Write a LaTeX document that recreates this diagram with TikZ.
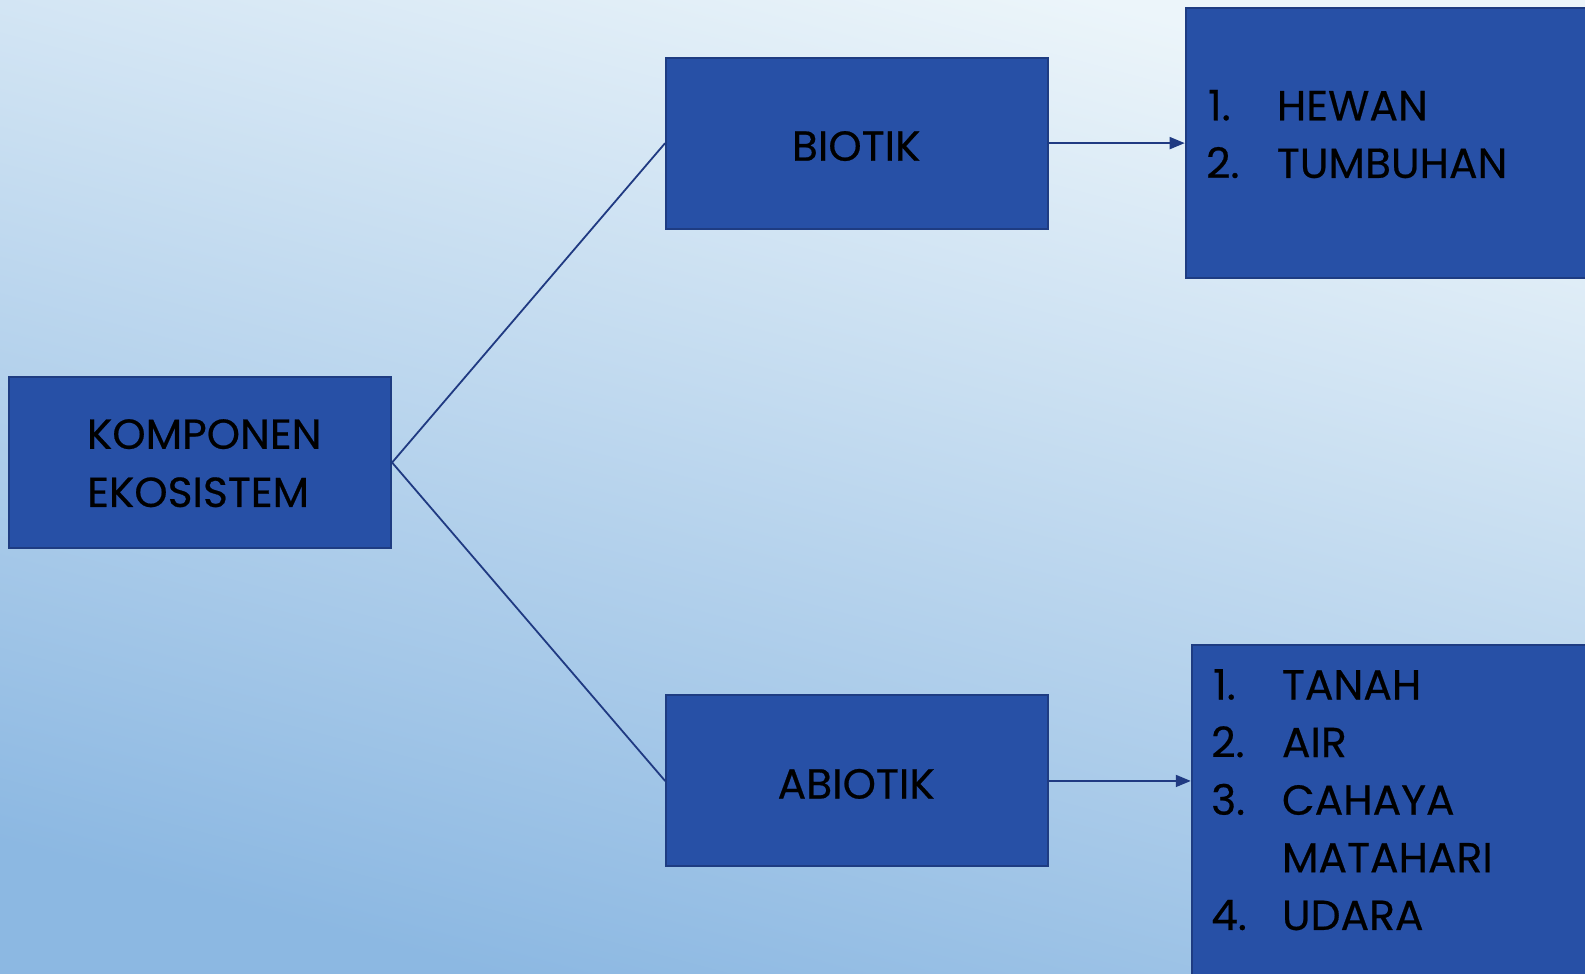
\documentclass[tikz,border=0pt]{standalone}
\usepackage{fontspec}
\setmainfont{Poppins}[FakeStretch=1.01,FakeBold=0.5]
\usetikzlibrary{arrows.meta}
\definecolor{boxfill}{RGB}{39,80,166}
\definecolor{boxedge}{RGB}{30,60,130}
\definecolor{linec}{RGB}{32,58,130}
\definecolor{bgtop}{RGB}{236,245,250}
\definecolor{bgbot}{RGB}{140,184,226}
\tikzset{
  blk/.style={draw=boxedge, line width=2pt, fill=boxfill, anchor=north west, inner sep=0pt},
  lbl/.style={font=\fontsize{42}{57}\selectfont, text=black, anchor=base},
  lst/.style={font=\fontsize{42}{57}\selectfont, text=black, anchor=base west, inner sep=0pt},
  conn/.style={draw=linec, line width=1.8pt},
  arr/.style={conn, -{Triangle[length=15pt,width=12pt]}}
}
\begin{document}
\begin{tikzpicture}[x=1.01084pt,y=-1.01084pt]
\useasboundingbox (0,0) rectangle (1568,962.6);
\shade[top color=bgtop, bottom color=bgbot, shading angle=-15] (0,0) rectangle (1568,962.6);
% boxes
\node[blk, minimum width=382pt, minimum height=171pt] (komp) at (8,372) {};
\node[blk, minimum width=382pt, minimum height=171pt] (bio) at (658,56) {};
\node[blk, minimum width=382pt, minimum height=171pt] (abio) at (658,687) {};
\node[blk, minimum width=430pt, minimum height=270pt] (blist) at (1172,7) {};
\node[blk, minimum width=430pt, minimum height=350pt] (alist) at (1178,637) {};
% labels
\node[lbl] (kt1) at (202,444) {KOMPONEN};
\node[lbl] (kt2) at (196,501.5) {EKOSISTEM};
\node[lbl] (bt) at (847,159) {BIOTIK};
\node[lbl] (at) at (847,790) {ABIOTIK};
% lists
\node[lst] (b1n) at (1195,119) {1.};
\node[lst] (b1) at (1263,119) {HEWAN};
\node[lst] (b2n) at (1193,176) {2.};
\node[lst] (b2) at (1263,176) {TUMBUHAN};
\node[lst] (a1n) at (1200,692) {1.};
\node[lst] (a1) at (1268,692) {TANAH};
\node[lst] (a2n) at (1198,749) {2.};
\node[lst] (a2) at (1268,749) {AIR};
\node[lst] (a3n) at (1198,806) {3.};
\node[lst] (a3) at (1268,806) {CAHAYA};
\node[lst] (a3b) at (1268,863) {MATAHARI};
\node[lst] (a4n) at (1198,920) {4.};
\node[lst] (a4) at (1268,920) {UDARA};
% connectors
\draw[conn] (komp.east) -- (bio.west);
\draw[conn] (komp.east) -- (abio.west);
\draw[arr] (bio.east) -- (bio.east -| blist.west);
\draw[arr] (abio.east) -- (abio.east -| alist.west);
\end{tikzpicture}
\end{document}
